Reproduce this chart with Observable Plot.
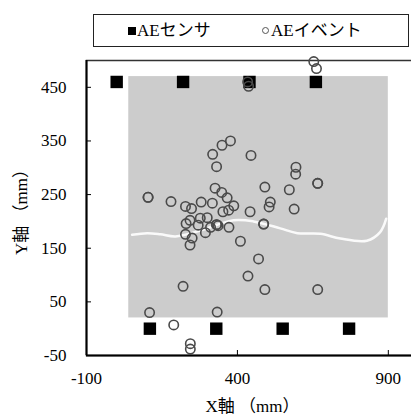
<!DOCTYPE html>
<html><head><meta charset="utf-8">
<script src="https://cdn.jsdelivr.net/npm/d3@7"></script>
<script src="https://cdn.jsdelivr.net/npm/@observablehq/plot@0.6"></script>
<style>
body{margin:0;background:#fff;}
#wrap{position:relative;width:411px;height:417px;overflow:hidden;font-family:"Liberation Serif","Noto Sans CJK JP",serif;}
#legend{position:absolute;left:93px;top:14px;width:314px;height:31px;border:1.5px solid #222;font-size:17px;color:#000;background:#fff;z-index:2;}
.item{position:absolute;top:0;line-height:31px;white-space:nowrap;}
.sq{display:inline-block;width:8px;height:8px;background:#000;margin-right:1px;vertical-align:1px;}
.ci{display:inline-block;width:5px;height:5px;border:1.3px solid #555;border-radius:50%;margin-right:2px;vertical-align:2px;}
#chart{position:absolute;left:0;top:0;}
</style></head>
<body>
<div id="wrap">
  <div id="legend">
    <span class="item" style="left:34px"><span class="sq"></span>AEセンサ</span>
    <span class="item" style="left:168px"><span class="ci"></span>AEイベント</span>
  </div>
  <div id="chart"></div>
</div>
<script>
const sensorX = [0, 220, 440, 660, 110, 330, 550, 770];
const sensorY = [460, 460, 460, 460, 0, 0, 0, 0];

const eventX = [377,349,318,445,331,594,593,666,666,491,572,326,348,366,104,104,180,509,505,588,388,317,280,228,248,352,371,442,243,277,300,331,331,336,487,487,372,294,228,250,243,410,470,435,109,220,333,491,666,189,244,244,653,662,434,437,230,270,311];
const eventY = [350,342,325,323,302,301,288,271,271,264,259,262,254,244,245,245,237,236,227,223,229,234,236,228,224,218,221,218,202,206,207,194,194,192,195,195,189,179,176,169,156,163,130,98,30,79,31,73,73,7,-28,-38,498,485,460,452,196,193,189];

const plateX = [40, 900];
const plateY = [20, 470];

const crackX = [51,101,145,195,277,387,453,542,599,675,741,829,873,893];
const crackY = [175,178,176,172,183,202,200,187,178,177,168,164,180,205];

const xTicks = [-100, 400, 900];
const yTicks = [-50, 50, 150, 250, 350, 450];

const sensors = sensorX.map((x, i) => ({x, y: sensorY[i]}));
const events = eventX.map((x, i) => ({x, y: eventY[i]}));
const crack = crackX.map((x, i) => ({x, y: crackY[i]}));
const plate = [{x1: plateX[0], x2: plateX[1], y1: plateY[0], y2: plateY[1]}];

const chart = Plot.plot({
  width: 411, height: 417,
  marginLeft: 86, marginRight: -7, marginTop: 60, marginBottom: 62,
  x: {domain: [-100, 1000]},
  y: {domain: [-50, 500]},
  style: {fontFamily: '"Liberation Serif","Noto Sans CJK JP",serif', fontSize: "17px", color: "#000", background: "transparent", overflow: "visible"},
  marks: [
    Plot.rect(plate, {x1: "x1", x2: "x2", y1: "y1", y2: "y2", fill: "#cccccc"}),
    Plot.line(crack, {x: "x", y: "y", stroke: "#fff", strokeWidth: 2.5, strokeOpacity: 0.9, curve: "catmull-rom"}),
    Plot.frame({stroke: "#333", strokeWidth: 1.5}),
    Plot.dot(sensors, {x: "x", y: "y", symbol: "square", r: 7, fill: "#000"}),
    Plot.dot(events, {x: "x", y: "y", r: 4.7, stroke: "#4a4a4a", strokeWidth: 1.6, fill: "none"}),
    Plot.axisX({ticks: xTicks, tickSize: -5, tickPadding: 21, tickFormat: d => String(d), fontSize: 17,
      label: "X軸 （mm）", labelAnchor: "center", labelArrow: "none", labelOffset: 56}),
    Plot.axisY({ticks: yTicks, tickSize: -5, tickPadding: 25, tickFormat: d => String(d), fontSize: 17,
      label: "Y軸 （mm）", labelAnchor: "center", labelArrow: "none", labelOffset: 72}),
    Plot.ruleX([xTicks[0]], {stroke: "#000", strokeWidth: 2}),
    Plot.ruleY([yTicks[0]], {stroke: "#000", strokeWidth: 2})
  ]
});
document.getElementById("chart").appendChild(chart);
</script>
</body></html>
